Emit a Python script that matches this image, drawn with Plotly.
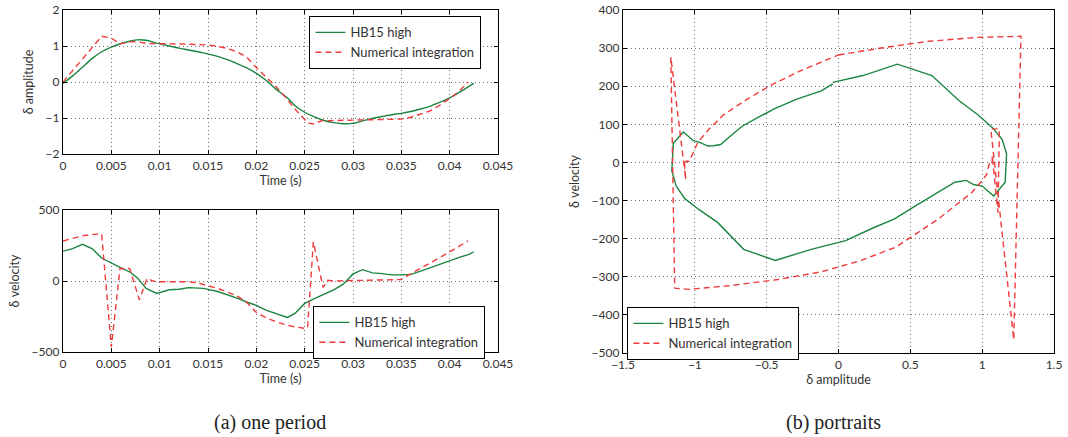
import plotly.graph_objects as go

# ---------------- data ----------------
# HB15 high
t_hb = [0, 0.001, 0.002, 0.003, 0.004, 0.005, 0.006, 0.007, 0.0077, 0.0086,
        0.0097, 0.011, 0.012, 0.013, 0.0145, 0.016, 0.017, 0.018, 0.019, 0.020,
        0.021, 0.022, 0.0232, 0.024, 0.025, 0.026, 0.027, 0.028, 0.029, 0.030,
        0.031, 0.032, 0.033, 0.034, 0.035, 0.036, 0.037, 0.038, 0.039, 0.040,
        0.041, 0.042, 0.0425]
amp_hb = [-0.04, 0.17, 0.41, 0.65, 0.84, 0.97, 1.07, 1.14, 1.17, 1.16,
          1.08, 1.00, 0.94, 0.89, 0.81, 0.71, 0.62, 0.51, 0.39, 0.24,
          0.05, -0.19, -0.44, -0.66, -0.84, -0.97, -1.07, -1.13, -1.16, -1.15,
          -1.08, -1.01, -0.96, -0.91, -0.87, -0.82, -0.75, -0.67, -0.56, -0.44,
          -0.29, -0.12, -0.04]
vel_hb = [210, 228, 258, 228, 162, 125, 92, 60, 22, -52,
          -88, -62, -58, -47, -52, -74, -96, -120, -148, -172,
          -205, -228, -257, -228, -158, -124, -95, -62, -22, 50,
          80, 57, 52, 43, 44, 47, 70, 95, 118, 142,
          166, 188, 206]

# Numerical integration
t_num = [0, 0.001, 0.002, 0.003, 0.004, 0.005, 0.0059, 0.0069, 0.0079, 0.0087,
         0.0094, 0.010, 0.011, 0.012, 0.013, 0.014, 0.015, 0.016, 0.017, 0.018,
         0.019, 0.020, 0.021, 0.022, 0.023, 0.024, 0.025, 0.0253, 0.0259, 0.0269,
         0.0274, 0.028, 0.029, 0.030, 0.031, 0.032, 0.033, 0.034, 0.035, 0.036,
         0.037, 0.038, 0.039, 0.040, 0.041, 0.0419]
amp_num = [0.00, 0.31, 0.63, 0.96, 1.27, 1.22, 1.06, 1.12, 1.11, 1.07,
           1.07, 1.07, 1.06, 1.05, 1.05, 1.04, 1.03, 0.99, 0.93, 0.84,
           0.69, 0.40, 0.15, -0.12, -0.42, -0.75, -1.04, -1.14, -1.167, -1.063,
           -1.074, -1.07, -1.06, -1.06, -1.05, -1.05, -1.04, -1.04, -1.03, -0.98,
           -0.90, -0.80, -0.64, -0.46, -0.25, 0.0]
vel_num = [282, 301, 318, 328, 331, -465, 88, 88, -132, 18,
           -2, -5, -4, -4, -5, -15, -32, -52, -78, -105,
           -150, -222, -258, -287, -307, -323, -333, -330, 276, -45,
           5, 0, 2, 3, 3, 2, 3, 5, 10, 52,
           88, 125, 165, 205, 243, 282]

# tick labels
time_ticks = [0, 0.005, 0.01, 0.015, 0.02, 0.025, 0.03, 0.035, 0.04, 0.045]
time_labels = ["0", "0.005", "0.01", "0.015", "0.02", "0.025", "0.03", "0.035", "0.04", "0.045"]
amp_ticks = [-2, -1, 0, 1, 2]
vel_ticks_a = [-500, 0, 500]
pa_x_ticks = [-1.5, -1, -0.5, 0, 0.5, 1, 1.5]
pa_y_ticks = [-500, -400, -300, -200, -100, 0, 100, 200, 300, 400]

names = ["HB15 high", "Numerical integration"]
captions = ["(a) one period", "(b) portraits"]

# ---------------- styles ----------------
GREEN = "#1b8540"
RED = "#f03a3c"
FONT = "Lato"
W, H = 1068, 437

green_line = dict(color=GREEN, width=1.4)
red_line = dict(color=RED, width=1.4, dash="6px,4px")

fig = go.Figure()

# (a) top: amplitude vs time
fig.add_trace(go.Scatter(x=t_hb, y=amp_hb, mode="lines", name=names[0],
                         line=dict(**green_line, shape="spline", smoothing=0.6),
                         xaxis="x", yaxis="y", legend="legend"))
fig.add_trace(go.Scatter(x=t_num, y=amp_num, mode="lines", name=names[1],
                         line=red_line, xaxis="x", yaxis="y", legend="legend"))
# (a) bottom: velocity vs time
fig.add_trace(go.Scatter(x=t_hb, y=vel_hb, mode="lines", name=names[0],
                         line=green_line, xaxis="x2", yaxis="y2", legend="legend2"))
fig.add_trace(go.Scatter(x=t_num, y=vel_num, mode="lines", name=names[1],
                         line=red_line, xaxis="x2", yaxis="y2", legend="legend2"))
# (b) portraits
fig.add_trace(go.Scatter(x=amp_hb, y=vel_hb, mode="lines", name=names[0],
                         line=green_line, xaxis="x3", yaxis="y3", legend="legend3"))
fig.add_trace(go.Scatter(x=amp_num, y=vel_num, mode="lines", name=names[1],
                         line=red_line, xaxis="x3", yaxis="y3", legend="legend3"))


def axis(**kw):
    d = dict(showline=True, linecolor="black", linewidth=1.4, mirror="ticks",
             ticks="inside", ticklen=4, tickcolor="black", tickwidth=1,
             showgrid=True, gridcolor="#707070", griddash="1px,3px", gridwidth=1,
             zeroline=False, automargin=False,
             tickfont=dict(family=FONT, size=12, color="#333333"),
             title_font=dict(family=FONT, size=12.5, color="#333333"))
    d.update(kw)
    return d


def px_x(a, b):
    return [a / W, b / W]


def px_y(top, bottom):
    return [1 - bottom / H, 1 - top / H]


def legend(x, y):
    return dict(x=x / W, y=1 - y / H, xanchor="left", yanchor="top",
                bgcolor="white", bordercolor="black", borderwidth=1.4,
                font=dict(family=FONT, size=13, color="#333333"),
                tracegroupgap=0, itemwidth=30)


fig.update_layout(
    width=W, height=H,
    margin=dict(l=0, r=0, t=0, b=0),
    paper_bgcolor="white", plot_bgcolor="white",
    showlegend=True,
    xaxis=axis(domain=px_x(63, 498), range=[0, 0.045], tickvals=time_ticks,
               ticktext=time_labels, title=dict(text="Time (s)", standoff=3),
               anchor="y"),
    yaxis=axis(domain=px_y(10, 154), range=[-2, 2], tickvals=amp_ticks,
               title=dict(text="δ amplitude", standoff=9), anchor="x"),
    xaxis2=axis(domain=px_x(63, 498), range=[0, 0.045], tickvals=time_ticks,
                ticktext=time_labels, title=dict(text="Time (s)", standoff=3),
                anchor="y2"),
    yaxis2=axis(domain=px_y(210, 352), range=[-500, 500], tickvals=vel_ticks_a,
                title=dict(text="δ velocity", standoff=9), anchor="x2"),
    xaxis3=axis(domain=px_x(623, 1054), range=[-1.5, 1.5], tickvals=pa_x_ticks,
                title=dict(text="δ amplitude", standoff=3), anchor="y3"),
    yaxis3=axis(domain=px_y(10, 353), range=[-500, 400], tickvals=pa_y_ticks,
                title=dict(text="δ velocity", standoff=9), anchor="x3"),
    legend=legend(309, 16),
    legend2=legend(313, 306),
    legend3=legend(627, 307),
    annotations=[
        dict(text=captions[0], x=270 / W, y=1 - 422 / H, xref="paper", yref="paper",
             showarrow=False, xanchor="center", yanchor="middle",
             font=dict(family="Liberation Serif", size=20, color="#222222")),
        dict(text=captions[1], x=833 / W, y=1 - 422 / H, xref="paper", yref="paper",
             showarrow=False, xanchor="center", yanchor="middle",
             font=dict(family="Liberation Serif", size=20, color="#222222")),
    ],
)

fig.write_html("out.html",
               config={"displayModeBar": False},
               post_script="document.body.style.margin='0';"
                           "document.body.style.overflow='hidden';")
